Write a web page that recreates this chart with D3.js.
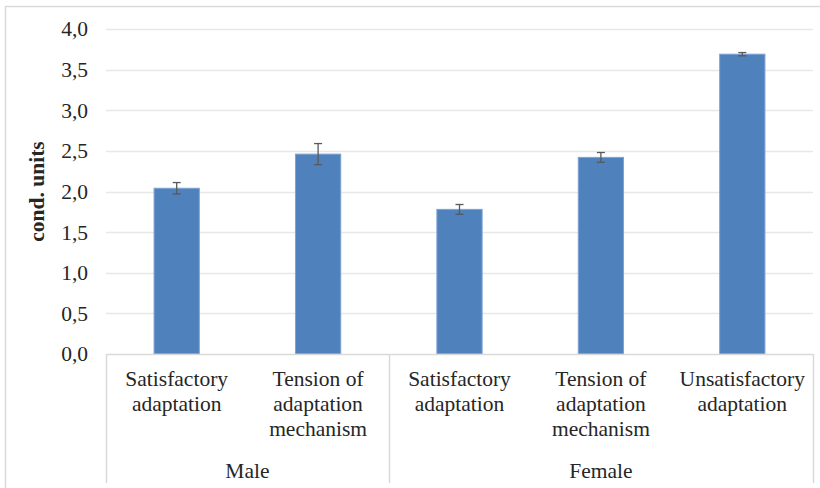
<!DOCTYPE html>
<html lang="en">
<head>
  <meta charset="UTF-8">
  <title>Adaptation by sex</title>
  <style>
    html, body { margin: 0; padding: 0; background: #fff; }
    svg { display: block; }
    svg text { font-family: 'Liberation Serif', 'Times New Roman', serif; }
  </style>
</head>
<body>
  <div id="chart"></div>
  <script src="https://d3js.org/d3.v7.min.js"></script>
  <script>
    // data
    const groups = ['Male', 'Female'];
    const categories = [
      ['Satisfactory', 'adaptation'],
      ['Tension of', 'adaptation', 'mechanism'],
      ['Satisfactory', 'adaptation'],
      ['Tension of', 'adaptation', 'mechanism'],
      ['Unsatisfactory', 'adaptation']
    ];
    const categoryGroup = [0, 0, 1, 1, 1];
    const values = [2.04, 2.46, 1.78, 2.42, 3.69];
    const errors = [0.07, 0.13, 0.06, 0.06, 0.02];
    const yTicks = [0, 0.5, 1, 1.5, 2, 2.5, 3, 3.5, 4];

    const WIDTH = 820;
    const HEIGHT = 488;
    const margin = {top: 29, right: 7, bottom: 134, left: 106};
    const innerWidth = WIDTH - margin.left - margin.right;
    const innerHeight = HEIGHT - margin.top - margin.bottom;
    const BAR_FRACTION = 0.32;
    const FONT_SIZE = '21.5px';
    const TEXT_COLOR = '#262626';

    const svg = d3.select('#chart')
      .append('svg')
      .attr('width', WIDTH)
      .attr('height', HEIGHT)
      .attr('viewBox', `0 0 ${WIDTH} ${HEIGHT}`);

    // chart frame (only top and left edges fall inside the picture)
    svg.append('path')
      .attr('d', `M5.5,${HEIGHT} V6.5 H${WIDTH}`)
      .attr('fill', 'none')
      .attr('stroke', '#d9d9d9')
      .attr('stroke-width', 1.5);

    const g = svg.append('g')
      .attr('transform', `translate(${margin.left},${margin.top})`);

    const xScale = d3.scaleBand()
      .domain(d3.range(values.length))
      .range([0, innerWidth])
      .padding(0);

    const yScale = d3.scaleLinear()
      .domain([0, 4])
      .range([innerHeight, 0]);

    // gridlines
    g.selectAll('line.grid')
      .data(yTicks.filter(d => d > 0))
      .enter()
      .append('line')
      .attr('class', 'grid')
      .attr('x1', 0)
      .attr('x2', innerWidth)
      .attr('y1', d => Math.round(yScale(d)) + 0.5)
      .attr('y2', d => Math.round(yScale(d)) + 0.5)
      .attr('stroke', '#e8e8e8')
      .attr('stroke-width', 1.5);

    // y axis labels
    const yAxis = d3.axisLeft(yScale)
      .tickValues(yTicks)
      .tickSize(0)
      .tickPadding(18)
      .tickFormat(d => d3.format('.1f')(d).replace('.', ','));
    const yAxisG = g.append('g').call(yAxis).attr('font-family', null).attr('font-size', null);
    yAxisG.select('.domain').remove();
    yAxisG.selectAll('text')
      .style('font-size', FONT_SIZE)
      .attr('fill', TEXT_COLOR);

    // y axis title
    svg.append('text')
      .attr('transform', `translate(44,${margin.top + innerHeight / 2}) rotate(-90)`)
      .attr('text-anchor', 'middle')
      .style('font-weight', 'bold')
      .style('font-size', FONT_SIZE)
      .attr('fill', TEXT_COLOR)
      .text('cond. units');

    // bars
    const barWidth = xScale.bandwidth() * BAR_FRACTION;
    g.selectAll('rect.bar')
      .data(values)
      .enter()
      .append('rect')
      .attr('class', 'bar')
      .attr('x', (d, i) => xScale(i) + (xScale.bandwidth() - barWidth) / 2)
      .attr('width', barWidth)
      .attr('y', d => yScale(d))
      .attr('height', d => innerHeight - yScale(d))
      .attr('fill', '#4f81bd')
      .attr('stroke', '#7da3d3')
      .attr('stroke-width', 1);

    // error bars
    const errG = g.selectAll('g.err')
      .data(values.map((v, i) => ({v, e: errors[i], i})))
      .enter()
      .append('g')
      .attr('class', 'err')
      .attr('stroke', '#595959')
      .attr('stroke-width', 1.3);
    errG.append('line')
      .attr('x1', d => xScale(d.i) + xScale.bandwidth() / 2)
      .attr('x2', d => xScale(d.i) + xScale.bandwidth() / 2)
      .attr('y1', d => yScale(d.v + d.e))
      .attr('y2', d => yScale(d.v - d.e));
    [1, -1].forEach(s => {
      errG.append('line')
        .attr('x1', d => xScale(d.i) + xScale.bandwidth() / 2 - 4)
        .attr('x2', d => xScale(d.i) + xScale.bandwidth() / 2 + 4)
        .attr('y1', d => yScale(d.v + s * d.e))
        .attr('y2', d => yScale(d.v + s * d.e));
    });

    // category axis
    const axisColor = '#d9d9d9';
    g.append('line')
      .attr('x1', 0)
      .attr('x2', innerWidth)
      .attr('y1', innerHeight + 0.5)
      .attr('y2', innerHeight + 0.5)
      .attr('stroke', axisColor)
      .attr('stroke-width', 1.5);

    // group boundaries
    const boundaries = [0];
    categoryGroup.forEach((gi, i) => {
      if (i === categoryGroup.length - 1 || categoryGroup[i + 1] !== gi) {
        boundaries.push(xScale(i) + xScale.bandwidth());
      }
    });
    g.selectAll('line.sep')
      .data(boundaries)
      .enter()
      .append('line')
      .attr('class', 'sep')
      .attr('x1', d => Math.round(d) + 0.5)
      .attr('x2', d => Math.round(d) + 0.5)
      .attr('y1', innerHeight)
      .attr('y2', innerHeight + 129)
      .attr('stroke', axisColor)
      .attr('stroke-width', 1.5);

    // category labels
    const LINE_H = 25;
    const catLabels = g.selectAll('text.cat')
      .data(categories)
      .enter()
      .append('text')
      .attr('class', 'cat')
      .attr('text-anchor', 'middle')
      .style('font-size', FONT_SIZE)
      .attr('fill', TEXT_COLOR)
      .attr('transform', (d, i) => `translate(${xScale(i) + xScale.bandwidth() / 2},${innerHeight + 32})`);
    catLabels.selectAll('tspan')
      .data(d => d)
      .enter()
      .append('tspan')
      .attr('x', 0)
      .attr('y', (d, i) => i * LINE_H)
      .text(d => d);

    // group labels
    g.selectAll('text.group')
      .data(groups)
      .enter()
      .append('text')
      .attr('class', 'group')
      .attr('text-anchor', 'middle')
      .style('font-size', FONT_SIZE)
      .attr('fill', TEXT_COLOR)
      .attr('x', (d, gi) => {
        const idx = d3.range(values.length).filter(i => categoryGroup[i] === gi);
        return (xScale(idx[0]) + xScale(idx[idx.length - 1]) + xScale.bandwidth()) / 2;
      })
      .attr('y', innerHeight + 124)
      .text(d => d);
  </script>
</body>
</html>
